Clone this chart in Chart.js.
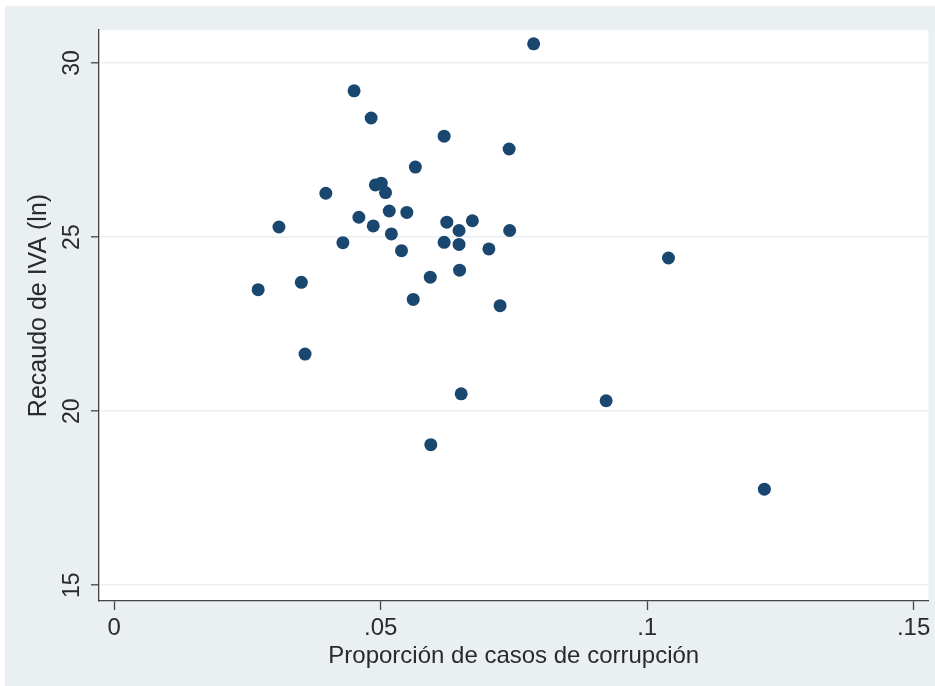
<!DOCTYPE html>
<html>
<head>
<meta charset="utf-8">
<script src="https://cdn.jsdelivr.net/npm/chart.js@4.4.1/dist/chart.umd.min.js"></script>
<style>
  html, body { margin: 0; padding: 0; background: #ffffff; }
  #wrap { position: absolute; left: 5px; top: 6px; width: 930px; height: 680px; }
</style>
</head>
<body>
<div id="wrap"><canvas id="c" width="930" height="680"></canvas></div>
<script>
// Proporción de casos de corrupción (x) vs. Recaudo de IVA en logaritmos (y)
const corrupcion = [
  0.0270, 0.0309, 0.0351, 0.0358, 0.0397, 0.0429, 0.0450, 0.0459, 0.0482, 0.0486,
  0.0490, 0.0501, 0.0509, 0.0516, 0.0520, 0.0539, 0.0549, 0.0561, 0.0565, 0.0593,
  0.0594, 0.0619, 0.0619, 0.0624, 0.0647, 0.0647, 0.0648, 0.0651, 0.0672, 0.0703,
  0.0724, 0.0741, 0.0742, 0.0787, 0.0923, 0.1040, 0.1220
];
const recaudoIVA = [
  23.49, 25.29, 23.70, 21.64, 26.26, 24.84, 29.20, 25.57, 28.42, 25.32,
  26.50, 26.55, 26.28, 25.75, 25.09, 24.61, 25.71, 23.21, 27.01, 23.85,
  19.04, 24.85, 27.90, 25.43, 25.19, 24.79, 24.05, 20.50, 25.47, 24.66,
  23.03, 27.53, 25.19, 30.55, 20.30, 24.40, 17.76
];
const xTicks = [0, 0.05, 0.10, 0.15];
const xTickLabels = ['0', '.05', '.1', '.15'];
const yTicks = [15, 20, 25, 30];
const yTickLabels = ['15', '20', '25', '30'];
const xTitle = 'Proporción de casos de corrupción';
const yTitle = 'Recaudo de IVA (ln)';

const points = corrupcion.map((x, i) => ({ x: x, y: recaudoIVA[i] }));

const FONT = "'Liberation Sans', Arial, Helvetica, sans-serif";
const INK = '#2a2a2a';

// Light backdrop around the plot region, white inside the plot region
const backdrop = {
  id: 'backdrop',
  beforeDraw(chart) {
    const { ctx, chartArea: a } = chart;
    ctx.save();
    ctx.fillStyle = '#eaf0f2';
    ctx.fillRect(0, 0, chart.width, chart.height);
    ctx.fillStyle = '#ffffff';
    ctx.fillRect(a.left, a.top, a.right - a.left, a.bottom - a.top);
    ctx.restore();
  }
};

// Vertical axis title, set a little above the middle of the plot region
const yAxisTitle = {
  id: 'yAxisTitle',
  afterDraw(chart) {
    const { ctx, chartArea: a } = chart;
    ctx.save();
    ctx.translate(34, (a.top + a.bottom) / 2 - 10);
    ctx.rotate(-Math.PI / 2);
    ctx.font = '25px ' + FONT;
    ctx.fillStyle = INK;
    ctx.textAlign = 'center';
    ctx.textBaseline = 'middle';
    ctx.fillText(yTitle, 0, 0);
    ctx.restore();
  }
};

new Chart(document.getElementById('c'), {
  type: 'scatter',
  data: {
    datasets: [{
      data: points,
      backgroundColor: '#1a476f',
      borderWidth: 0,
      pointRadius: 6.5,
      pointHoverRadius: 6.5
    }]
  },
  plugins: [backdrop, yAxisTitle],
  options: {
    responsive: false,
    animation: false,
    events: [],
    layout: { padding: { left: 0, top: 24, right: 6, bottom: 0 } },
    plugins: { legend: { display: false }, tooltip: { enabled: false } },
    scales: {
      x: {
        type: 'linear',
        min: -0.00287,
        max: 0.1528,
        afterBuildTicks(scale) { scale.ticks = xTicks.map(v => ({ value: v })); },
        afterFit(scale) { scale.height = 85; },
        ticks: {
          callback: (v) => xTickLabels[xTicks.indexOf(v)] ?? '',
          font: { family: FONT, size: 24 },
          color: INK,
          padding: 4,
          maxRotation: 0,
          minRotation: 0
        },
        grid: { drawOnChartArea: false, tickLength: 9, tickColor: '#444', tickWidth: 1.3 },
        border: { color: '#444', width: 1.3 },
        title: {
          display: true,
          text: xTitle,
          font: { family: FONT, size: 24 },
          color: INK,
          padding: { top: 0, bottom: 15 }
        }
      },
      y: {
        type: 'linear',
        min: 14.549,
        max: 30.948,
        afterBuildTicks(scale) { scale.ticks = yTicks.map(v => ({ value: v })); },
        afterFit(scale) { scale.width = 94; },
        ticks: {
          callback: (v) => yTickLabels[yTicks.indexOf(v)] ?? '',
          font: { family: FONT, size: 23 },
          color: INK,
          padding: 6,
          minRotation: 90,
          maxRotation: 90,
          crossAlign: 'center'
        },
        grid: { color: '#e9eef0', lineWidth: 1.6, tickLength: 8, tickColor: '#444', tickWidth: 1.3 },
        border: { color: '#444', width: 1.3 },
        title: { display: false }
      }
    }
  }
});
</script>
</body>
</html>
